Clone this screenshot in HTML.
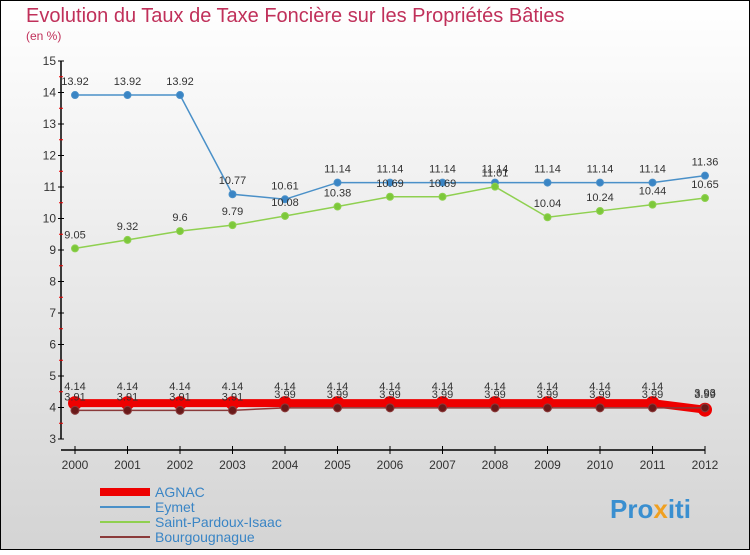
<!DOCTYPE html>
<html><head><meta charset="utf-8"><style>
body{margin:0;width:750px;height:550px;overflow:hidden;font-family:"Liberation Sans",sans-serif}
svg text{font-family:"Liberation Sans",sans-serif}
</style></head><body>
<svg width="750" height="550">
<defs><linearGradient id="bg" x1="0" y1="0" x2="0" y2="1"><stop offset="0" stop-color="#ffffff"/><stop offset="1" stop-color="#d4d4d4"/></linearGradient></defs>
<rect x="0.5" y="0.5" width="749" height="549" fill="url(#bg)" stroke="#000"/>
<text x="26" y="22" font-size="20" fill="#c0305a">Evolution du Taux de Taxe Foncière sur les Propriétés Bâties</text>
<text x="26" y="40" font-size="12" fill="#c0305a">(en %)</text>
<g id="axes"></g><g id="series"></g><g id="legend"></g>
<g><text x="610" y="518" font-size="26" font-weight="bold" fill="#3a8fd0">Pro<tspan fill="#f0a020">x</tspan>iti</text></g>
</svg>
<script>
const years=[2000,2001,2002,2003,2004,2005,2006,2007,2008,2009,2010,2011,2012];
const agnac=[4.14,4.14,4.14,4.14,4.14,4.14,4.14,4.14,4.14,4.14,4.14,4.14,3.93];
const eymet=[13.92,13.92,13.92,10.77,10.61,11.14,11.14,11.14,11.14,11.14,11.14,11.14,11.36];
const pardoux=[9.05,9.32,9.6,9.79,10.08,10.38,10.69,10.69,11.01,10.04,10.24,10.44,10.65];
const bourg=[3.91,3.91,3.91,3.91,3.99,3.99,3.99,3.99,3.99,3.99,3.99,3.99,3.99];
const yTicks=[3,4,5,6,7,8,9,10,11,12,13,14,15];
const NS="http://www.w3.org/2000/svg";
const X=i=>75+i*52.5, Y=v=>439-(v-3)*31.5;
function mk(p,t,a){const e=document.createElementNS(NS,t);for(const k in a)e.setAttribute(k,a[k]);p.appendChild(e);return e;}
const ax=document.getElementById('axes');
let e=mk(ax,'line',{x1:61,y1:Y(15),x2:61,y2:Y(3),stroke:'#000','stroke-width':1.5});


e=mk(ax,'line',{x1:61,y1:450,x2:X(12),y2:450,stroke:'#000','stroke-width':1.5});


yTicks.forEach(v=>{
 mk(ax,'line',{x1:58,y1:Y(v),x2:64,y2:Y(v),stroke:'#000'});
 if(v<15)mk(ax,'line',{x1:59,y1:Y(v+0.5),x2:63,y2:Y(v+0.5),stroke:'#e00'});
 const t=mk(ax,'text',{x:56,y:Y(v)+4,'font-size':12,'text-anchor':'end',fill:'#333'});t.textContent=v;
 
 
});
years.forEach((yr,i)=>{
 mk(ax,'line',{x1:X(i),y1:446,x2:X(i),y2:454,stroke:'#000'});
 const t=mk(ax,'text',{x:X(i),y:469,'font-size':12,'text-anchor':'middle',fill:'#333'});t.textContent=yr;
 
 
});
const sg=document.getElementById('series');
function series(data,color,w,r,fill,name,dy){
 const pl=mk(sg,'polyline',{points:data.map((v,i)=>X(i)+','+Y(v)).join(' '),fill:'none',stroke:color,'stroke-width':w});
 
 
 data.forEach((v,i)=>{
  const c=mk(sg,'circle',{cx:X(i),cy:Y(v),r:r,fill:fill,stroke:color,'stroke-width':1});
  
  
  const t=mk(sg,'text',{x:X(i),y:Y(v)+dy,'font-size':11,'text-anchor':'middle',fill:'#333'});t.textContent=v;
  
  
 });
}
series(eymet,'#4a90c8',1.5,3.5,'#3a85c5','eymet',-10);
series(pardoux,'#8fd050',1.5,3.5,'#7cc83a','saint-pardoux',-10);
series(agnac,'#ee0000',8,6.5,'#ee0000','agnac',-13);
series(bourg,'#8a3a3a',1.5,4,'#6a1a1a','bourgougnague',-10);
const lg=document.getElementById('legend');
[['AGNAC','#ee0000',8],['Eymet','#4a90c8',2],['Saint-Pardoux-Isaac','#8fd050',2],['Bourgougnague','#8a3a3a',2]].forEach((d,i)=>{
 const y=492+i*15;
 const l=mk(lg,'line',{x1:100,y1:y,x2:150,y2:y,stroke:d[1],'stroke-width':d[2]});
 
 
 const t=mk(lg,'text',{x:155,y:y+5,'font-size':14,fill:'#3a85c5'});t.textContent=d[0];
 
 
});
</script>
</body></html>
